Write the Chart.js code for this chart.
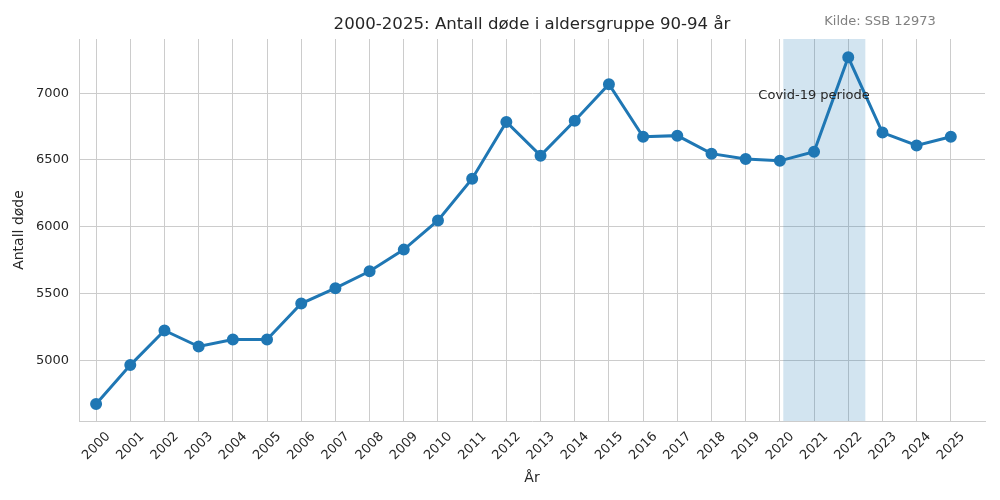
<!DOCTYPE html>
<html>
<head>
<meta charset="utf-8">
<script src="https://cdn.jsdelivr.net/npm/chart.js@4.4.0/dist/chart.umd.min.js"></script>
<style>
  html, body { margin: 0; padding: 0; background: #fff; }
  #wrap { width: 1000px; height: 500px; }
</style>
</head>
<body>
<div id="wrap"><canvas id="myChart"></canvas></div>
<script>
const years = [2000, 2001, 2002, 2003, 2004, 2005, 2006, 2007, 2008, 2009, 2010, 2011, 2012,
  2013, 2014, 2015, 2016, 2017, 2018, 2019, 2020, 2021, 2022, 2023, 2024, 2025];
const deaths = [4671, 4963, 5222, 5102, 5155, 5155, 5424, 5539, 5666, 5828, 6047, 6359, 6784,
  6532, 6794, 7067, 6674, 6682, 6547, 6507, 6493, 6562, 7269, 6705, 6608, 6674];
const yTicks = [5000, 5500, 6000, 6500, 7000];
const covidStart = 2020.1;
const covidEnd = 2022.5;
const covidLabel = 'Covid-19 periode';
const covidLabelPos = [2021, 6985];

const titleText = '2000-2025: Antall døde i aldersgruppe 90-94 år';
const sourceText = 'Kilde: SSB 12973';
const font = 'DejaVu Sans';
const textColor = '#262626';
const gridColor = '#cccccc';

const ctx = document.getElementById('myChart');

const covidPlugin = {
  id: 'covid',
  beforeDatasetsDraw(chart) {
    const {ctx, chartArea, scales: {x}} = chart;
    const x1 = x.getPixelForValue(covidStart);
    const x2 = x.getPixelForValue(covidEnd);
    ctx.save();
    ctx.fillStyle = 'rgba(31, 119, 180, 0.2)';
    ctx.fillRect(x1, chartArea.top, x2 - x1, chartArea.bottom - chartArea.top);
    ctx.restore();
  },
  afterDatasetsDraw(chart) {
    const {ctx, scales: {x, y}} = chart;
    ctx.save();
    ctx.font = '13px "' + font + '"';
    ctx.fillStyle = textColor;
    ctx.textAlign = 'center';
    ctx.textBaseline = 'middle';
    ctx.fillText(covidLabel, x.getPixelForValue(covidLabelPos[0]), y.getPixelForValue(covidLabelPos[1]));
    ctx.restore();
  },
  afterDraw(chart) {
    const {ctx, chartArea} = chart;
    ctx.save();
    ctx.textBaseline = 'middle';
    ctx.textAlign = 'center';
    ctx.font = '16.6px "' + font + '"';
    ctx.fillStyle = textColor;
    ctx.fillText(titleText, (chartArea.left + chartArea.right) / 2, 25);
    ctx.font = '13px "' + font + '"';
    ctx.fillStyle = '#808080';
    ctx.fillText(sourceText, 880, 22);
    ctx.restore();
  }
};

new Chart(ctx, {
  type: 'line',
  data: {
    labels: years,
    datasets: [{
      label: 'Antall døde',
      data: years.map((yr, i) => ({x: yr, y: deaths[i]})),
      borderColor: '#1f77b4',
      backgroundColor: '#1f77b4',
      borderWidth: 3,
      pointRadius: 4.5,
      pointHoverRadius: 4.5,
      tension: 0
    }]
  },
  options: {
    responsive: true,
    maintainAspectRatio: false,
    animation: false,
    layout: { padding: { top: 39, right: 15, left: 0, bottom: 0 } },
    plugins: {
      legend: { display: false },
      tooltip: { enabled: false }
    },
    scales: {
      x: {
        type: 'linear',
        min: 1999.5,
        max: 2026,
        afterBuildTicks(scale) {
          scale.ticks = years.map(v => ({value: v}));
        },
        afterFit(scale) { scale.height = 79; },
        grid: { color: gridColor, drawTicks: false },
        border: { color: gridColor },
        ticks: {
          minRotation: 45,
          maxRotation: 45,
          padding: 8,
          labelOffset: 12,
          autoSkip: false,
          color: textColor,
          font: { family: font, size: 13 },
          callback: v => String(v)
        },
        title: {
          display: true,
          text: 'År',
          color: textColor,
          font: { family: font, size: 14 },
          padding: { top: 0, bottom: 13 }
        }
      },
      y: {
        min: 4544,
        max: 7406,
        afterBuildTicks(scale) {
          scale.ticks = yTicks.map(v => ({value: v}));
        },
        afterFit(scale) { scale.width = 79; },
        grid: { color: gridColor, drawTicks: false },
        border: { color: gridColor },
        ticks: {
          padding: 10,
          color: textColor,
          font: { family: font, size: 13 },
          callback: v => String(v)
        },
        title: {
          display: true,
          text: 'Antall døde',
          color: textColor,
          font: { family: font, size: 14 },
          padding: { top: 11, bottom: 0 }
        }
      }
    }
  },
  plugins: [covidPlugin]
});
</script>
</body>
</html>
